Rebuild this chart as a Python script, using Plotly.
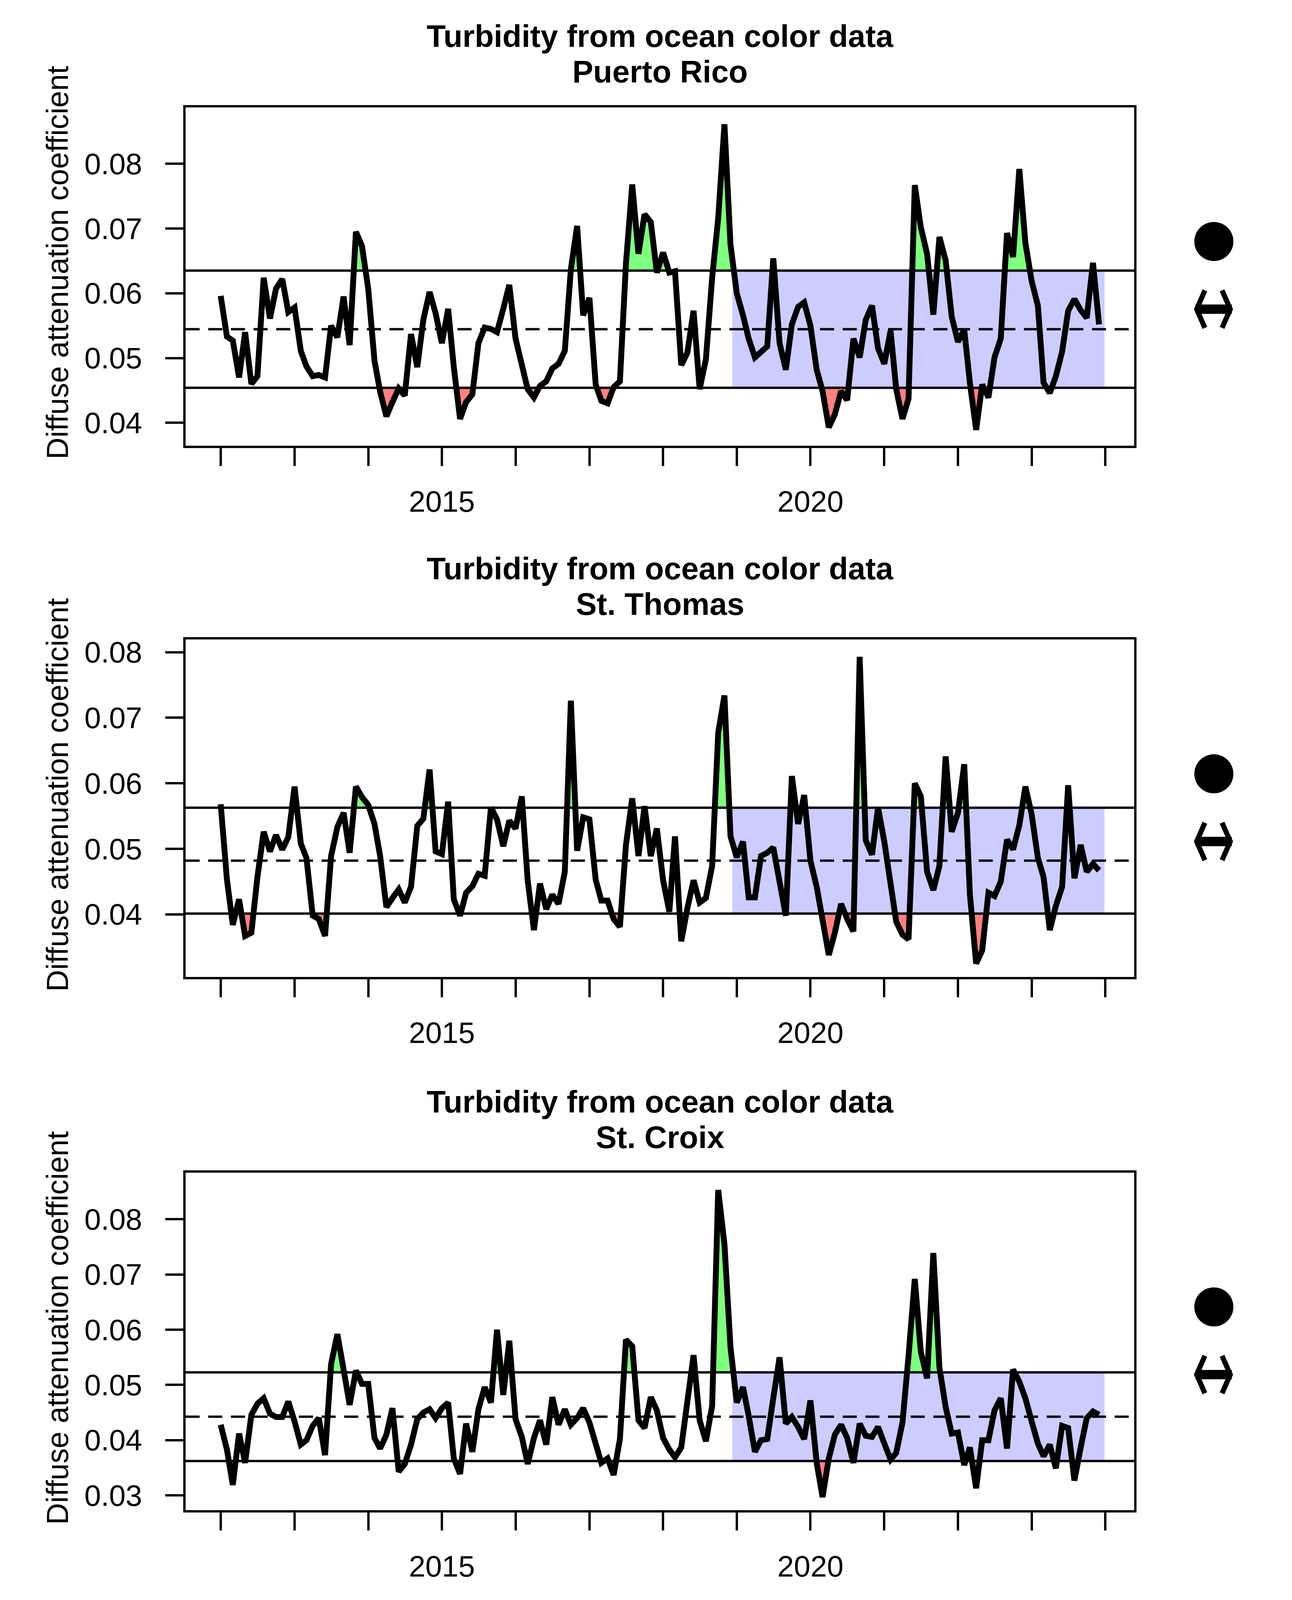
import numpy as np
import pandas as pd
import plotly.graph_objects as go

# monthly series, Jan 2012 - Dec 2023
months = pd.date_range("2012-01-01", "2023-12-01", freq="MS")

puerto_rico = [
    0.0596, 0.0533, 0.0527, 0.0470, 0.0540, 0.0460, 0.0472, 0.0624, 0.0561, 0.0607, 0.0622, 0.0571,
    0.0578, 0.0511, 0.0487, 0.0472, 0.0474, 0.0470, 0.0550, 0.0532, 0.0595, 0.0520, 0.0695, 0.0673,
    0.0607, 0.0496, 0.0448, 0.0410, 0.0432, 0.0453, 0.0442, 0.0537, 0.0486, 0.0559, 0.0602, 0.0569,
    0.0523, 0.0576, 0.0486, 0.0406, 0.0432, 0.0444, 0.0523, 0.0547, 0.0545, 0.0540, 0.0576, 0.0613,
    0.0530, 0.0487, 0.0452, 0.0439, 0.0457, 0.0464, 0.0484, 0.0491, 0.0511, 0.0637, 0.0704, 0.0566,
    0.0593, 0.0459, 0.0434, 0.0430, 0.0455, 0.0464, 0.0646, 0.0768, 0.0661, 0.0722, 0.0710, 0.0632,
    0.0663, 0.0632, 0.0634, 0.0489, 0.0508, 0.0573, 0.0452, 0.0498, 0.0624, 0.0716, 0.0861, 0.0675,
    0.0600, 0.0566, 0.0530, 0.0501, 0.0508, 0.0518, 0.0654, 0.0523, 0.0482, 0.0552, 0.0579, 0.0586,
    0.0550, 0.0482, 0.0449, 0.0393, 0.0413, 0.0449, 0.0435, 0.0530, 0.0501, 0.0559, 0.0581, 0.0515,
    0.0491, 0.0542, 0.0452, 0.0406, 0.0437, 0.0767, 0.0702, 0.0661, 0.0567, 0.0687, 0.0651, 0.0564,
    0.0525, 0.0544, 0.0462, 0.0389, 0.0459, 0.0439, 0.0501, 0.0530, 0.0693, 0.0656, 0.0792, 0.0678,
    0.0619, 0.0581, 0.0462, 0.0446, 0.0472, 0.0510, 0.0573, 0.0591, 0.0574, 0.0562, 0.0647, 0.0552,
]

st_thomas = [
    0.0568, 0.0453, 0.0384, 0.0423, 0.0367, 0.0372, 0.0457, 0.0526, 0.0496, 0.0521, 0.0499, 0.0518,
    0.0595, 0.0508, 0.0486, 0.0398, 0.0393, 0.0367, 0.0489, 0.0533, 0.0555, 0.0494, 0.0595, 0.0579,
    0.0567, 0.0538, 0.0489, 0.0411, 0.0425, 0.0438, 0.0418, 0.0442, 0.0535, 0.0546, 0.0621, 0.0496,
    0.0492, 0.0572, 0.0423, 0.0398, 0.0433, 0.0443, 0.0462, 0.0459, 0.0563, 0.0545, 0.0504, 0.0543,
    0.0531, 0.0580, 0.0452, 0.0376, 0.0447, 0.0408, 0.0430, 0.0416, 0.0465, 0.0726, 0.0497, 0.0548,
    0.0545, 0.0453, 0.0421, 0.0421, 0.0393, 0.0381, 0.0506, 0.0577, 0.0489, 0.0565, 0.0489, 0.0531,
    0.0452, 0.0404, 0.0519, 0.0359, 0.0409, 0.0452, 0.0418, 0.0425, 0.0474, 0.0677, 0.0734, 0.0519,
    0.0487, 0.0511, 0.0426, 0.0426, 0.0489, 0.0494, 0.0502, 0.0453, 0.0398, 0.0611, 0.0538, 0.0582,
    0.0482, 0.0442, 0.0387, 0.0338, 0.0372, 0.0416, 0.0393, 0.0374, 0.0793, 0.0513, 0.0491, 0.0563,
    0.0511, 0.0442, 0.0389, 0.0369, 0.0362, 0.0600, 0.0580, 0.0465, 0.0437, 0.0474, 0.0641, 0.0526,
    0.0555, 0.0629, 0.0431, 0.0325, 0.0345, 0.0433, 0.0428, 0.0450, 0.0514, 0.0499, 0.0536, 0.0595,
    0.0553, 0.0486, 0.0457, 0.0376, 0.0413, 0.0442, 0.0597, 0.0455, 0.0506, 0.0465, 0.0477, 0.0467,
]

st_croix = [
    0.0428, 0.0383, 0.0319, 0.0412, 0.0359, 0.0446, 0.0466, 0.0476, 0.0448, 0.0442, 0.0442, 0.0470,
    0.0434, 0.0392, 0.0400, 0.0426, 0.0440, 0.0373, 0.0538, 0.0592, 0.0528, 0.0464, 0.0526, 0.0502,
    0.0502, 0.0404, 0.0385, 0.0410, 0.0458, 0.0343, 0.0357, 0.0392, 0.0438, 0.0450, 0.0456, 0.0440,
    0.0458, 0.0468, 0.0367, 0.0339, 0.0430, 0.0379, 0.0456, 0.0496, 0.0468, 0.0600, 0.0482, 0.0580,
    0.0438, 0.0406, 0.0357, 0.0404, 0.0436, 0.0392, 0.0478, 0.0428, 0.0456, 0.0428, 0.0440, 0.0458,
    0.0432, 0.0389, 0.0359, 0.0367, 0.0337, 0.0402, 0.0582, 0.0570, 0.0436, 0.0422, 0.0478, 0.0454,
    0.0404, 0.0383, 0.0369, 0.0387, 0.0472, 0.0554, 0.0436, 0.0398, 0.0462, 0.0853, 0.0755, 0.0568,
    0.0468, 0.0496, 0.0444, 0.0379, 0.0400, 0.0402, 0.0476, 0.0550, 0.0430, 0.0442, 0.0424, 0.0402,
    0.0472, 0.0359, 0.0297, 0.0367, 0.0410, 0.0428, 0.0404, 0.0359, 0.0430, 0.0408, 0.0406, 0.0424,
    0.0394, 0.0365, 0.0377, 0.0432, 0.0552, 0.0692, 0.0560, 0.0512, 0.0739, 0.0532, 0.0460, 0.0412,
    0.0414, 0.0355, 0.0387, 0.0313, 0.0400, 0.0400, 0.0454, 0.0476, 0.0385, 0.0528, 0.0506, 0.0476,
    0.0434, 0.0394, 0.0371, 0.0392, 0.0349, 0.0426, 0.0422, 0.0327, 0.0387, 0.0440, 0.0452, 0.0446,
]

regions = ["Puerto Rico", "St. Thomas", "St. Croix"]
series = [puerto_rico, st_thomas, st_croix]
long_term_mean = [0.05445, 0.0482, 0.04425]
long_term_sd = [0.00905, 0.00808, 0.00803]
y_ticks = [[0.04, 0.05, 0.06, 0.07, 0.08],
           [0.04, 0.05, 0.06, 0.07, 0.08],
           [0.03, 0.04, 0.05, 0.06, 0.07, 0.08]]
y_ranges = [[0.03648, 0.08872], [0.03047, 0.08192], [0.02731, 0.08843]]
recent_window = ["2018-12-10", "2023-12-28"]
x_range = ["2011-07-11", "2024-05-23"]
year_ticks = [f"{y}-01-01" for y in range(2012, 2025)]
year_labels = [str(y) if y in (2015, 2020) else "" for y in range(2012, 2025)]

# reference page size, used only to turn pixel positions into paper fractions
W, H = 3307, 4280
FONT = "Liberation Sans, Arial, sans-serif"
box_left, box_right = 475, 2903
box_tops = [287, 1711, 3137]
box_bottoms = [1192, 2613, 4040]


def px(x, y):
    return x / W, 1 - y / H


def band(y, level, above):
    # add the crossing points so the fill hugs the line
    t = months.values.astype("int64")
    xs, ys = [], []
    for i in range(len(y)):
        if i > 0:
            a, b = y[i - 1], y[i]
            if (a - level) * (b - level) < 0:
                f = (level - a) / (b - a)
                xs.append(t[i - 1] + f * (t[i] - t[i - 1]))
                ys.append(level)
        xs.append(t[i])
        ys.append(y[i])
    xs = pd.to_datetime(np.array(xs, dtype="int64"))
    ys = np.maximum(ys, level) if above else np.minimum(ys, level)
    return xs, ys


fig = go.Figure()
shapes, annotations = [], []

for k in range(3):
    n = "" if k == 0 else str(k + 1)
    xa, ya = "x" + n, "y" + n
    y = series[k]
    m, s = long_term_mean[k], long_term_sd[k]
    hi, lo = m + s, m - s

    shapes.append(dict(type="rect", xref=xa, yref=ya, x0=recent_window[0], x1=recent_window[1],
                       y0=lo, y1=hi, fillcolor="#CCCCFF", line=dict(width=0), layer="below"))

    for level, above, col in [(hi, True, "#80FF80"), (lo, False, "#FF8080")]:
        bx, by = band(y, level, above)
        fig.add_trace(go.Scatter(x=bx, y=[level] * len(bx), xaxis=xa, yaxis=ya, mode="lines",
                                 line=dict(width=0), showlegend=False, hoverinfo="skip"))
        fig.add_trace(go.Scatter(x=bx, y=by, xaxis=xa, yaxis=ya, mode="lines", fill="tonexty",
                                 fillcolor=col, line=dict(width=0), showlegend=False, hoverinfo="skip"))

    for level, dash in [(hi, "solid"), (lo, "solid"), (m, "36px,22px")]:
        fig.add_trace(go.Scatter(x=x_range, y=[level, level], xaxis=xa, yaxis=ya, mode="lines",
                                 line=dict(color="black", width=6, dash=dash), showlegend=False))

    fig.add_trace(go.Scatter(x=months, y=y, xaxis=xa, yaxis=ya, mode="lines",
                             line=dict(color="black", width=15), showlegend=False))

    top, bot = box_tops[k], box_bottoms[k]
    dom_y = [1 - bot / H, 1 - top / H]
    axis_common = dict(showline=True, linewidth=6, linecolor="black", mirror=True, ticks="outside",
                       ticklen=46, tickwidth=6, tickcolor="black", showgrid=False, zeroline=False,
                       tickfont=dict(family=FONT, size=76, color="black"), automargin=False)
    fig.update_layout(**{
        "xaxis" + n: dict(domain=[box_left / W, box_right / W], range=x_range, type="date",
                          tickmode="array", tickvals=year_ticks, ticktext=year_labels,
                          anchor=ya, ticklabelstandoff=26, **axis_common),
        "yaxis" + n: dict(domain=dom_y, range=y_ranges[k], tickmode="array", tickvals=y_ticks[k],
                          ticktext=[f"{v:.2f}" for v in y_ticks[k]], anchor=xa,
                          ticklabelstandoff=44, **axis_common),
    })

    cx = (box_left + box_right) / 2
    for txt, yy in [("Turbidity from ocean color data", top - 190), (regions[k], top - 95)]:
        ax, ay = px(cx, yy)
        annotations.append(dict(text="<b>" + txt + "</b>", x=ax, y=ay, xref="paper", yref="paper",
                                showarrow=False, xanchor="center", yanchor="middle",
                                font=dict(family=FONT, size=80, color="black")))
    ax, ay = px(147, top + 416)
    annotations.append(dict(text="Diffuse attenuation coefficient", x=ax, y=ay, xref="paper",
                            yref="paper", showarrow=False, textangle=-90, xanchor="center",
                            yanchor="middle", font=dict(family=FONT, size=77, color="black")))

    # status symbols on the right: filled circle and a two-headed arrow
    cxp, cyp = px(3107, top + 359)
    shapes.append(dict(type="circle", xref="paper", yref="paper", xsizemode="pixel",
                       ysizemode="pixel", xanchor=cxp, yanchor=cyp, x0=-50, x1=50, y0=-50, y1=50,
                       fillcolor="black", line=dict(width=0)))
    axp, ayp = px(3106, top + 540)
    shapes.append(dict(type="rect", xref="paper", yref="paper", xsizemode="pixel",
                       ysizemode="pixel", xanchor=axp, yanchor=ayp, x0=-46, x1=47, y0=-12, y1=12,
                       fillcolor="black", line=dict(width=0)))
    for sgn in (-1, 1):
        path = f"M {sgn * 22} 48 L {sgn * 43} 0 L {sgn * 22} -48"
        shapes.append(dict(type="path", xref="paper", yref="paper", xsizemode="pixel",
                           ysizemode="pixel", xanchor=axp, yanchor=ayp, path=path,
                           line=dict(color="black", width=13)))

fig.update_layout(autosize=True, template="none", paper_bgcolor="white", plot_bgcolor="white",
                  margin=dict(l=0, r=0, t=0, b=0), shapes=shapes, annotations=annotations,
                  showlegend=False)

# fill the browser window so nothing falls below the visible area
fig.write_html("out.html", default_width="100vw", default_height="100vh",
               config={"displayModeBar": False},
               post_script="document.body.style.margin='0';document.body.style.overflow='hidden';")
